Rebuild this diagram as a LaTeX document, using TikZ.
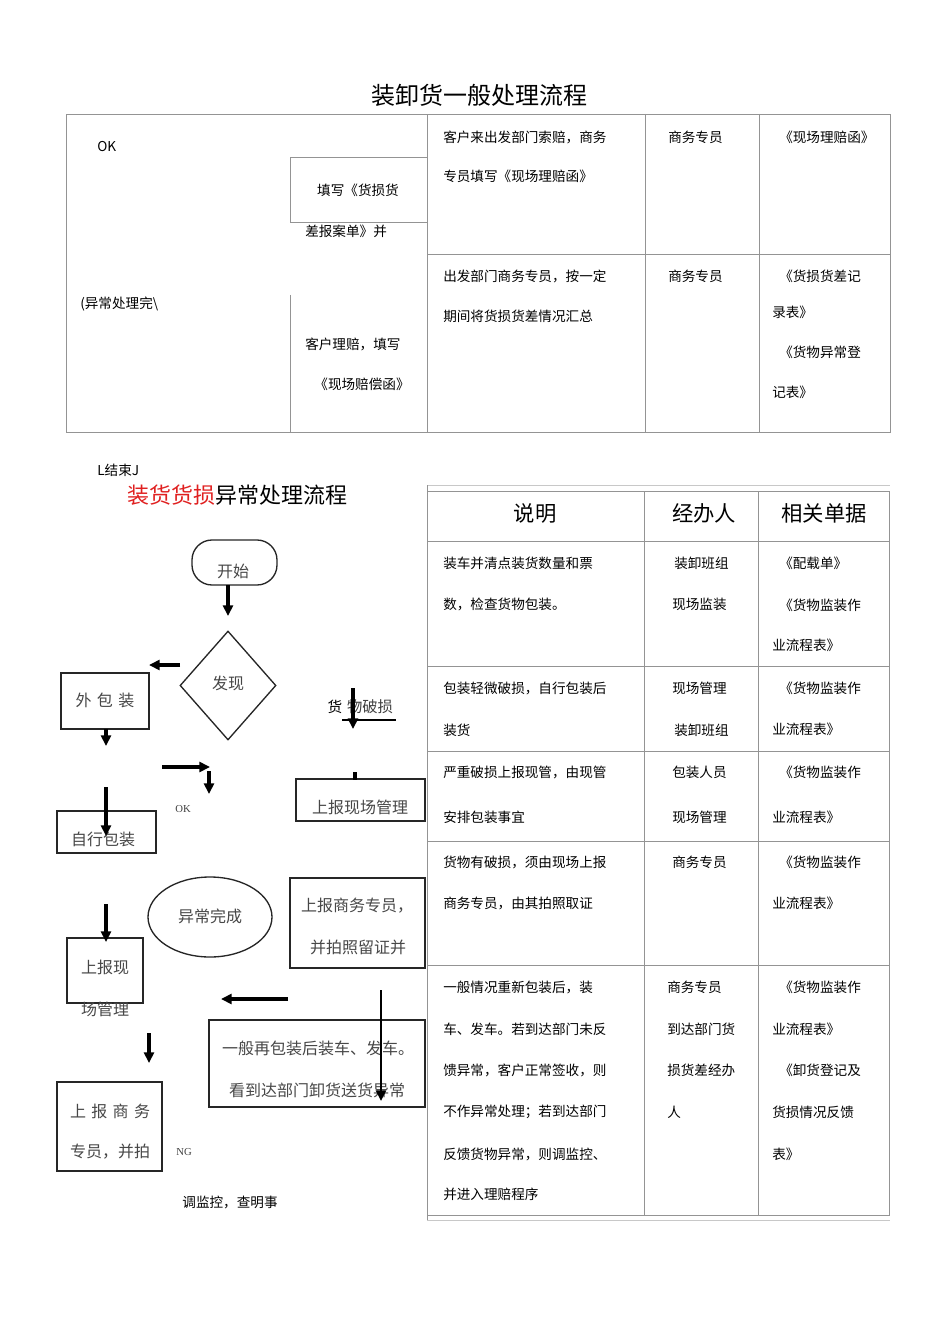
\documentclass[tikz,border=0pt]{standalone}
\usepackage{fontspec}
\setmainfont{Noto Sans CJK SC}
\newfontfamily\latser{Liberation Serif}
\usetikzlibrary{arrows.meta,shapes.geometric}
\definecolor{lg}{HTML}{949494}
\definecolor{llg}{HTML}{C8C8C8}
\definecolor{tred}{HTML}{E02020}
\begin{document}
\begin{tikzpicture}[x=0.75pt,y=-0.75pt,
  grid/.style={draw=lg, line width=0.7pt},
  lgrid/.style={draw=llg, line width=0.7pt},
  tw/.style={inner sep=0pt, anchor=west, font=\fontsize{10.2}{12}\selectfont},
  tc/.style={inner sep=0pt, font=\fontsize{10.2}{12}\selectfont},
  hd/.style={inner sep=0pt, font=\fontsize{16}{18}\selectfont},
  fc/.style={inner sep=0pt, font=\fontsize{12}{14}\selectfont, text=black!72},
  fbox/.style={draw=black!85, line width=1pt, inner sep=0pt},
  arr/.style={line width=2.6pt, -{Triangle[length=8pt,width=7.5pt]}},
  small/.style={inner sep=0pt, font=\latser\fontsize{8}{9}\selectfont, text=black!75},
]
\useasboundingbox[fill=white] (0,0) rectangle (950,1344);

% ===== title 1 =====
\node[inner sep=0pt, font=\fontsize{18}{20}\selectfont] (title1) at (479,95) {装卸货一般处理流程};

% ===== top table =====
\draw[grid] (66,114) rectangle (427,432);
\draw[grid] (427,114) -- (890,114) -- (890,432) -- (427,432);
\draw[grid] (645,114) -- (645,432);
\draw[grid] (759,114) -- (759,432);
\draw[grid] (427,254) -- (890,254);
\draw[grid] (427,157) -- (290,157) -- (290,222) -- (427,222);
\draw[grid] (290,295) -- (290,432);

\node[tw] (ok1) at (97,147) {OK};
\node[tc] (tx1) at (358,190) {填写《货损货};
\node[tw] (tx2) at (305,231) {差报案单》并};
\node[tw] (tx3) at (80,304) {(异常处理完\textbackslash};
\node[tw] (tx4) at (305,344) {客户理赔，填写};
\node[tc] (tx5) at (362,384) {《现场赔偿函》};

\node[tw] (r1a) at (443,137) {客户来出发部门索赔，商务};
\node[tw] (r1b) at (443,176) {专员填写《现场理赔函》};
\node[tw] (r1c) at (668,137) {商务专员};
\node[tw] (r1d) at (779,137) {《现场理赔函》};
\node[tw] (r2a) at (443,276) {出发部门商务专员，按一定};
\node[tw] (r2b) at (443,316) {期间将货损货差情况汇总};
\node[tw] (r2c) at (668,276) {商务专员};
\node[tw] (r2d) at (779,276) {《货损货差记};
\node[tw] (r2e) at (772,312) {录表》};
\node[tw] (r2f) at (779,352) {《货物异常登};
\node[tw] (r2g) at (772,392) {记表》};

\node[tw] (endt) at (97,470) {L结束J};

% ===== title 2 =====
\node[inner sep=0pt, anchor=west, font=\fontsize{16.5}{18}\selectfont] (title2) at (127,495) {\textcolor{tred}{装货货损}异常处理流程};

% ===== second table =====
\draw[lgrid] (427,485) -- (890,485);
\draw[lgrid] (427,1220) -- (890,1220);
\draw[grid] (427,485) -- (427,1220);
\draw[grid] (427,491) -- (889,491) -- (889,1215) -- (427,1215);
\foreach \yy in {541,666,751,841,965} { \draw[grid] (427,\yy) -- (889,\yy); }
\draw[grid] (644,491) -- (644,1215);
\draw[grid] (758,491) -- (758,1215);

\node[hd] (h1) at (535,513) {说明};
\node[hd] (h2) at (704,513) {经办人};
\node[hd] (h3) at (824,513) {相关单据};

\node[tw] (s1a) at (443,563) {装车并清点装货数量和票};
\node[tw] (s1b) at (443,604) {数，检查货物包装。};
\node[tw] (s1c) at (674,563) {装卸班组};
\node[tw] (s1d) at (672,604) {现场监装};
\node[tw] (s1e) at (779,563) {《配载单》};
\node[tw] (s1f) at (779,605) {《货物监装作};
\node[tw] (s1g) at (772,645) {业流程表》};

\node[tw] (s2a) at (443,688) {包装轻微破损，自行包装后};
\node[tw] (s2b) at (443,730) {装货};
\node[tw] (s2c) at (672,688) {现场管理};
\node[tw] (s2d) at (674,730) {装卸班组};
\node[tw] (s2e) at (779,688) {《货物监装作};
\node[tw] (s2f) at (772,729) {业流程表》};

\node[tw] (s3a) at (443,772) {严重破损上报现管，由现管};
\node[tw] (s3b) at (443,817) {安排包装事宜};
\node[tw] (s3c) at (672,772) {包装人员};
\node[tw] (s3d) at (672,817) {现场管理};
\node[tw] (s3e) at (779,772) {《货物监装作};
\node[tw] (s3f) at (772,817) {业流程表》};

\node[tw] (s4a) at (443,862) {货物有破损，须由现场上报};
\node[tw] (s4b) at (443,903) {商务专员，由其拍照取证};
\node[tw] (s4c) at (672,862) {商务专员};
\node[tw] (s4e) at (779,862) {《货物监装作};
\node[tw] (s4f) at (772,903) {业流程表》};

\node[tw] (s5a) at (443,987) {一般情况重新包装后，装};
\node[tw] (s5b) at (443,1029) {车、发车。若到达部门未反};
\node[tw] (s5c) at (443,1070) {馈异常，客户正常签收，则};
\node[tw] (s5d) at (443,1112) {不作异常处理；若到达部门};
\node[tw] (s5e) at (443,1154) {反馈货物异常，则调监控、};
\node[tw] (s5f) at (443,1194) {并进入理赔程序};
\node[tw] (s5g) at (667,987) {商务专员};
\node[tw] (s5h) at (667,1029) {到达部门货};
\node[tw] (s5i) at (667,1070) {损货差经办};
\node[tw] (s5j) at (667,1112) {人};
\node[tw] (s5k) at (779,987) {《货物监装作};
\node[tw] (s5l) at (772,1029) {业流程表》};
\node[tw] (s5m) at (779,1070) {《卸货登记及};
\node[tw] (s5n) at (772,1112) {货损情况反馈};
\node[tw] (s5o) at (772,1154) {表》};

% ===== flowchart =====
\node[fbox, rounded corners=15pt, minimum width=85*0.75pt, minimum height=45*0.75pt] (start) at (234.5,562.5) {};
\node[fc] (startt) at (233,571) {开始};
\node[fbox, diamond, aspect=0.88, minimum width=96*0.75pt, minimum height=109*0.75pt] (disc) at (228,685.5) {};
\node[fc] (disct) at (228,683) {发现};
\node[fbox, line width=2pt, minimum width=88*0.75pt, minimum height=56*0.75pt] (wbz) at (105,701) {};
\node[fc] (wbzt) at (105,700) {外\,\,包\,\,装};
\node[inner sep=0pt, font=\fontsize{11}{13}\selectfont] (hwps1) at (335,707) {货};
\node[inner sep=0pt, font=\fontsize{11.5}{13}\selectfont, text=black!75] (hwps2) at (370,707) {物破损};
\coordinate (ul1) at (342,720); \coordinate (ul2) at (396,720);
\draw[line width=1.6pt] (ul1) -- (ul2);

\node[fbox, line width=1.3pt, minimum width=129*0.75pt, minimum height=42*0.75pt] (sbxc) at (360.5,800) {};
\node[fc] (sbxct) at (360,807) {上报现场管理};
\node[fbox, line width=1.3pt, minimum width=99*0.75pt, minimum height=42*0.75pt] (zxbz) at (106.5,832) {};
\node[fc] (zxbzt) at (103,839) {自行包装};
\node[small] (okt) at (183,809) {OK};

\node[fbox, ellipse, minimum width=124*0.75pt, minimum height=80*0.75pt] (ycwc) at (210,917) {};
\node[fc] (ycwct) at (210,916) {异常完成};

\node[fbox, minimum width=135*0.75pt, minimum height=90*0.75pt] (sbsw) at (357.5,923) {};
\node[fc] (sbswa) at (357,906) {上报商务专员，};
\node[fc] (sbswb) at (358,947) {并拍照留证并};

\node[fbox, minimum width=76*0.75pt, minimum height=65*0.75pt] (sbx) at (105,970.5) {};
\node[fc] (sbxa) at (105,967) {上报现};
\node[fc] (sbxb) at (105,1009) {场管理};

\node[fbox, minimum width=216*0.75pt, minimum height=87*0.75pt] (ybzb) at (317,1063.5) {};
\node[fc] (ybzba) at (318,1048) {一般再包装后装车、发车。};
\node[fc] (ybzbb) at (317,1090) {看到达部门卸货送货异常};

\node[fbox, minimum width=105*0.75pt, minimum height=89*0.75pt] (sbsw2) at (109.5,1126.5) {};
\node[fc] (sbsw2a) at (110,1111) {上\,\,报\,\,商\,\,务};
\node[fc] (sbsw2b) at (110,1152) {专员，并拍};
\node[small] (ngt) at (184,1152) {NG};
\node[tc] (dcjk) at (230,1202) {调监控，查明事};

% arrows
\coordinate (a1s) at (228,585);  \coordinate (a1e) at (228,616);
\coordinate (a2s) at (180,665);  \coordinate (a2e) at (149,665);
\coordinate (a3s) at (106,729);  \coordinate (a3e) at (106,746);
\coordinate (a4s) at (353,688);  \coordinate (a4e) at (353,729);
\coordinate (a5s) at (162,767);  \coordinate (a5e) at (210,767);
\coordinate (a6s) at (209,771);  \coordinate (a6e) at (209,794);
\coordinate (a7s) at (106,787);  \coordinate (a7e) at (106,836);
\coordinate (a8s) at (106,904);  \coordinate (a8e) at (106,942);
\coordinate (a9s) at (288,999);  \coordinate (a9e) at (221,999);
\coordinate (a10s) at (381,990); \coordinate (a10e) at (381,1101);
\coordinate (a11s) at (149,1033); \coordinate (a11e) at (149,1063);
\coordinate (st1) at (355,772); \coordinate (st2) at (355,780);
\draw[arr] (a1s) -- (a1e);
\draw[arr] (a2s) -- (a2e);
\draw[arr] (a3s) -- (a3e);
\draw[arr] (a4s) -- (a4e);
\draw[arr] (a5s) -- (a5e);
\draw[arr] (a6s) -- (a6e);
\draw[arr] (a7s) -- (a7e);
\draw[arr] (a8s) -- (a8e);
\draw[arr] (a9s) -- (a9e);
\draw[arr, line width=2pt] (a10s) -- (a10e);
\draw[arr] (a11s) -- (a11e);
\draw[line width=2.4pt] (st1) -- (st2);
\end{tikzpicture}
\end{document}
